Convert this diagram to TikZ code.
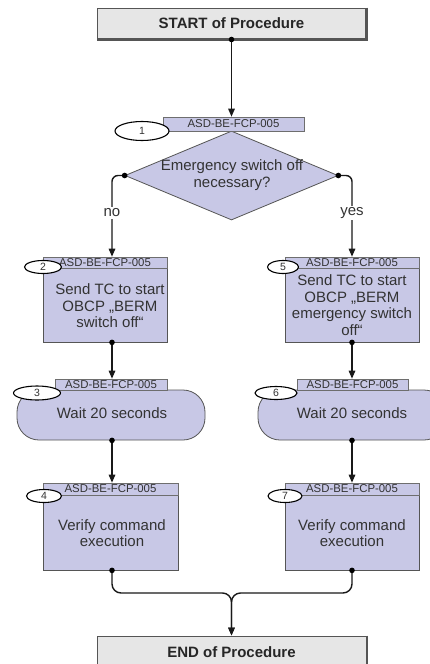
\documentclass[tikz,border=0pt]{standalone}
\usepackage{fontspec}
\setmainfont{Liberation Sans}
\usetikzlibrary{shapes.geometric,arrows.meta,calc}
\definecolor{lav}{HTML}{C8C8E6}
\definecolor{pale}{HTML}{E6E6E6}
\definecolor{ink}{HTML}{333333}
\definecolor{edge}{HTML}{555555}
\tikzset{
  term/.style={draw=edge, line width=1pt, fill=pale, minimum width=269pt, minimum height=31pt,
    inner sep=0, font=\fontsize{15}{16}\selectfont\bfseries, text=black!85},
  stepbox/.style={draw=edge, line width=0.8pt, fill=lav, inner sep=0},
  waitbox/.style={draw=edge, line width=0.8pt, fill=lav, inner sep=0, rounded corners=22pt,
    minimum width=188pt, minimum height=50pt},
  hdr/.style={draw=edge!85, line width=0.6pt, fill=lav, inner sep=0, minimum height=11pt,
    font=\fontsize{11.4}{11}\selectfont, text=ink},
  num/.style={ellipse, draw=black, line width=1.1pt, fill=white, inner sep=0,
    font=\fontsize{10.5}{10}\selectfont, text=ink},
  body/.style={align=center, font=\fontsize{15}{16.5}\selectfont, text=ink, inner sep=0},
  flow/.style={line width=1.4pt, draw=black!90, -{Triangle[length=8pt,width=6.5pt]}},
  lbl/.style={fill=white, inner sep=1.5pt, font=\fontsize{15}{16}\selectfont, text=ink},
}
\begin{document}
\begin{tikzpicture}[x=1pt,y=-1pt]
\useasboundingbox (0,0) rectangle (430,664);
\clip (0,0) rectangle (430,664);
\fill[white] (0,0) rectangle (430,664);

% column positions of the two branches
\coordinate (colL) at (112,0);
\coordinate (colR) at (352,0);
\coordinate (mrg) at (231.5,593);

% start and end
\node[term] (start) at (231.5,23.5) {START of Procedure};
\draw[edge, line width=2.2pt] (start.north east) -- (start.south east) -- (start.south west);
\node[term] (end) at (231.5,651.5) {};
\draw[edge, line width=2pt] (end.north east) -- (end.south east);
\node[font=\fontsize{15}{16}\selectfont\bfseries, text=black!85] (endtxt) at (231.5,652) {END of Procedure};

% decision
\node[diamond, draw=edge, line width=0.8pt, fill=lav, inner sep=0,
      minimum width=213pt, minimum height=89pt] (dia) at (231.5,175.5) {};
\node[body] (diatxt) at (232,175) {Emergency switch off\\necessary?};
\node[hdr, minimum width=141pt, minimum height=14pt] (h1) at (233.5,124) {ASD-BE-FCP-005};
\node[num, minimum width=54pt, minimum height=19pt] (n1) at (142,131) {1};

% left branch
\node[stepbox, minimum width=124pt, minimum height=85pt] (b2) at (105,299.5) {};
\node[hdr, minimum width=124pt] (h2) at (105,262.5) {ASD-BE-FCP-005};
\node[body] (t2) at (110,306) {Send TC to start\\OBCP „BERM\\switch off“};
\node[num, minimum width=37pt, minimum height=13pt] (n2) at (43,267) {2};

\node[waitbox] (b3) at (111,415) {};
\node[hdr, minimum width=112pt] (h3) at (111,384.5) {ASD-BE-FCP-005};
\node[body] (t3) at (112,413) {Wait 20 seconds};
\node[num, minimum width=47pt, minimum height=14pt] (n3) at (37,393) {3};

\node[stepbox, minimum width=135pt, minimum height=87pt] (b4) at (110.5,526.5) {};
\node[hdr, minimum width=135pt, minimum height=12pt] (h4) at (110.5,489) {ASD-BE-FCP-005};
\node[body] (t4) at (112,533) {Verify command\\execution};
\node[num, minimum width=35pt, minimum height=13pt] (n4) at (44,496) {4};

% right branch
\node[stepbox, minimum width=134pt, minimum height=85pt] (b5) at (352,299.5) {};
\node[hdr, minimum width=134pt] (h5) at (352,262.5) {ASD-BE-FCP-005};
\node[body] (t5) at (352,305) {Send TC to start\\OBCP „BERM\\emergency switch\\off“};
\node[num, minimum width=31pt, minimum height=13pt] (n5) at (283,267) {5};

\node[waitbox] (b6) at (352,415) {};
\node[hdr, minimum width=111pt] (h6) at (352.5,384.5) {ASD-BE-FCP-005};
\node[body] (t6) at (352,413) {Wait 20 seconds};
\node[num, minimum width=42pt, minimum height=13pt] (n6) at (276,393) {6};

\node[stepbox, minimum width=134pt, minimum height=87pt] (b7) at (352,526.5) {};
\node[hdr, minimum width=134pt, minimum height=12pt] (h7) at (352,489) {ASD-BE-FCP-005};
\node[body] (t7) at (352,533) {Verify command\\execution};
\node[num, minimum width=34pt, minimum height=13pt] (n7) at (285,496) {7};

% connectors
\draw[flow] (start.south) -- (start.south |- h1.north);
\draw[flow, rounded corners=6pt] (dia.west) -| (colL |- h2.north);
\draw[flow, rounded corners=6pt] (dia.east) -| (colR |- h5.north);
\node[lbl] (no) at (112,213) {no};
\node[lbl] (yes) at (352,213) {yes};
\draw[flow] (colL |- b2.south) -- (colL |- h3.north);
\draw[flow] (colL |- b3.south) -- (colL |- h4.north);
\draw[flow] (colR |- b5.south) -- (colR |- h6.north);
\draw[flow] (colR |- b6.south) -- (colR |- h7.north);
\draw[flow, rounded corners=9pt] (colL |- b4.south) |- (mrg) -- (end.north);
\draw[flow, rounded corners=9pt] (colR |- b7.south) |- (mrg) -- (end.north);

% start dots of the connectors
\foreach \p in {(start.south),(dia.west),(dia.east),(colL |- b2.south),(colL |- b3.south),
                (colL |- b4.south),(colR |- b5.south),(colR |- b6.south),(colR |- b7.south)}
  \fill \p circle (2.8pt);
\end{tikzpicture}
\end{document}
